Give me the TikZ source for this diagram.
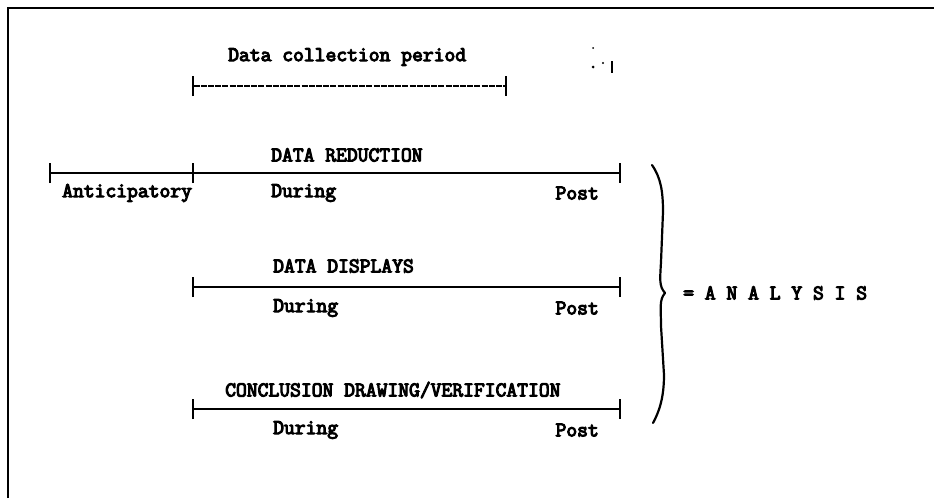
\documentclass[tikz,border=0pt]{standalone}
\usepackage{fontspec}
\usetikzlibrary{arrows.meta}
\newfontfamily\tw[FakeBold=5]{Latin Modern Mono}
\tikzset{
  lbl/.style={font=\tw\fontsize{21pt}{23pt}\selectfont, inner sep=0pt, text=black},
  bar/.style={line width=2.4pt, {Bar[width=20pt,line width=2.2pt]}-{Bar[width=20pt,line width=2.2pt]}, shorten <=-1pt, shorten >=-1pt},
  dbar/.style={bar, dash pattern=on 6pt off 1.2pt},
  frame/.style={line width=1.8pt}
}
\begin{document}
\begin{tikzpicture}[x=1pt,y=-1pt]
\useasboundingbox (0,0) rectangle (934,498);
% frame
\coordinate (fbl) at (8,498);
\coordinate (ftl) at (8,8);
\coordinate (ftr) at (934,8);
\draw[frame] (fbl) -- (ftl) -- (ftr);

% data collection period
\node[lbl, anchor=west] (dcp) at (228,57) {Data collection period};
\coordinate (dc1) at (193,86);
\coordinate (dc2) at (506,86);
\draw[dbar] (dc1) -- (dc2);
% specks
\fill (593,48) circle (1pt);
\fill (593,67) circle (1.5pt);
\fill (603,63) circle (1.2pt);
\draw[line width=1.2pt] (612,61) -- (612,73);

% data reduction
\node[lbl, anchor=west] (dr) at (271,155) {DATA REDUCTION};
\coordinate (r0) at (50,173);
\coordinate (r1) at (193,173);
\coordinate (r2) at (620,173);
\draw[bar] (r0) -- (r1);
\draw[bar] (r1) -- (r2);
\node[lbl, anchor=west] (ant) at (62,193) {Anticipatory};
\node[lbl, anchor=west] (dur1) at (271,193) {During};
\node[lbl, anchor=east] (post1) at (599,193) {Post};

% data displays
\node[lbl, anchor=west] (dd) at (273,266) {DATA DISPLAYS};
\coordinate (d1) at (193,287);
\coordinate (d2) at (620,287);
\draw[bar] (d1) -- (d2);
\node[lbl, anchor=west] (dur2) at (273,308) {During};
\node[lbl, anchor=east] (post2) at (599,308) {Post};

% conclusion
\node[lbl, anchor=west] (cd) at (225,390) {CONCLUSION DRAWING/VERIFICATION};
\coordinate (c1) at (193,409);
\coordinate (c2) at (620,409);
\draw[bar] (c1) -- (c2);
\node[lbl, anchor=west] (dur3) at (273,430) {During};
\node[lbl, anchor=east] (post3) at (599,430) {Post};

% brace
\draw[line width=2.2pt, line cap=round, line join=round]
  (652,165) .. controls (661,178) and (663,192) .. (663,212)
  -- (661,262) .. controls (660,280) and (659,286) .. (665,293)
  .. controls (659,300) and (661,308) .. (661,326)
  -- (664,375) .. controls (664,398) and (659,412) .. (653,423);

% analysis
\node[lbl, anchor=west] (an) at (683,293) {= A N A L Y S I S};
\end{tikzpicture}
\end{document}
